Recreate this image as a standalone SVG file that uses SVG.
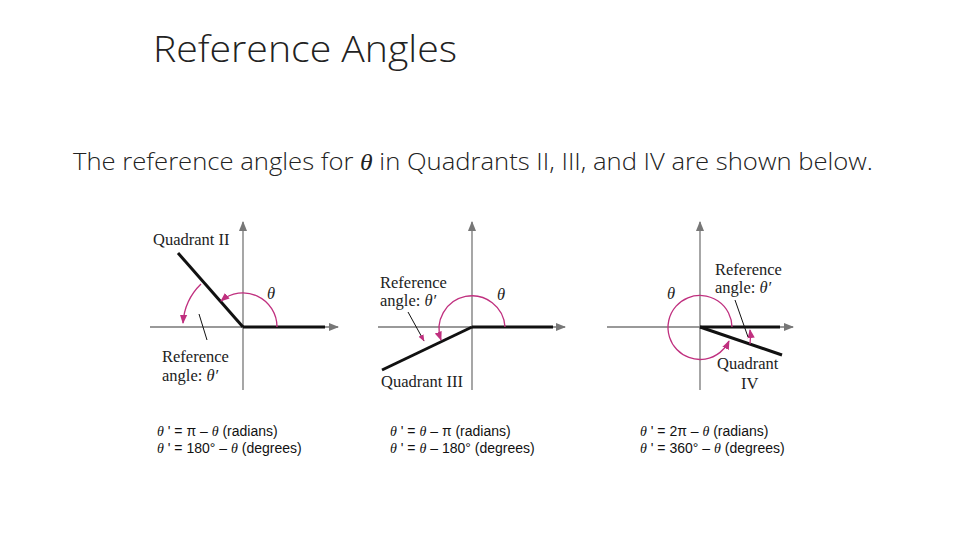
<svg xmlns="http://www.w3.org/2000/svg" width="960" height="540" viewBox="0 0 960 540">
<style>
.ax{stroke:#777;stroke-width:1.3;fill:none}
.ray{stroke:#111;stroke-width:3;fill:none}
.arc{stroke:#c0307f;stroke-width:1.3;fill:none}
.ld{stroke:#111;stroke-width:1;fill:none}
.lb{font-family:"Liberation Serif",serif;font-size:16.5px;fill:#222}
.fm{font-family:"Liberation Sans",Arial,sans-serif;font-size:14px;fill:#111}
.th{font-family:"Liberation Serif",serif;font-style:italic}
</style>
<defs>
<marker id="ah" viewBox="0 0 10 10" refX="9" refY="5" markerWidth="8" markerHeight="8" orient="auto"><path d="M0,1 L10,5 L0,9 z" fill="#777"/></marker>
<marker id="mh" viewBox="0 0 10 10" refX="9" refY="5" markerWidth="7" markerHeight="7" orient="auto"><path d="M0,1 L10,5 L0,9 z" fill="#c0307f"/></marker>
</defs>
<rect width="960" height="540" fill="#fff"/>
<text x="153" y="62" font-family="'Open Sans',sans-serif" font-weight="300" font-size="36" fill="#222" textLength="304" lengthAdjust="spacingAndGlyphs">Reference Angles</text>
<text x="73" y="170" font-family="'Open Sans',sans-serif" font-weight="300" font-size="23" fill="#222" textLength="800" lengthAdjust="spacingAndGlyphs">The reference angles for <tspan class="th">θ</tspan> in Quadrants II, III, and IV are shown below.</text>
<g id="connectors">
<line class="ax" x1="150" y1="327" x2="338" y2="327" marker-end="url(#ah)"/>
<line class="ax" x1="243" y1="390" x2="243" y2="222" marker-end="url(#ah)"/>
<line class="ax" x1="378" y1="327" x2="565" y2="327" marker-end="url(#ah)"/>
<line class="ax" x1="472" y1="390" x2="472" y2="222" marker-end="url(#ah)"/>
<line class="ax" x1="607" y1="327" x2="793" y2="327" marker-end="url(#ah)"/>
<line class="ax" x1="700" y1="390" x2="700" y2="222" marker-end="url(#ah)"/>
</g>
<g id="q2">
<line class="ray" x1="243" y1="327" x2="325" y2="327"/>
<line class="ray" x1="243" y1="327" x2="178" y2="253"/>
<path class="arc" d="M277,327 A34,34 0 0 0 221,301" marker-end="url(#mh)"/>
<path class="arc" d="M201,284 A60,60 0 0 0 183,323" marker-end="url(#mh)"/>
<line class="ld" x1="199" y1="314" x2="207" y2="340"/>
<text class="lb" x="153" y="245">Quadrant II</text>
<text class="lb th" x="267" y="299">θ</text>
<text class="lb" x="162" y="362">Reference</text>
<text class="lb" x="162" y="381">angle:  <tspan class="th">θ′</tspan></text>
</g>
<g id="q3">
<line class="ray" x1="472" y1="327" x2="553" y2="327"/>
<line class="ray" x1="472" y1="327" x2="382" y2="370"/>
<path class="arc" d="M505,327 A33,33 0 1 0 441,340" marker-end="url(#mh)"/>
<line class="ld" x1="408" y1="312" x2="424" y2="341" marker-end="url(#mh)"/>
<text class="lb" x="380" y="288">Reference</text>
<text class="lb" x="380" y="306">angle:  <tspan class="th">θ′</tspan></text>
<text class="lb th" x="497" y="300">θ</text>
<text class="lb" x="381" y="387">Quadrant III</text>
</g>
<g id="q4">
<line class="ray" x1="700" y1="327" x2="780" y2="327"/>
<line class="ray" x1="700" y1="327" x2="782" y2="355"/>
<path class="arc" d="M732,327 A32,32 0 1 0 729,341" marker-end="url(#mh)"/>
<path class="arc" d="M750,344 A50,50 0 0 0 750,330" marker-end="url(#mh)"/>
<line class="ld" x1="735" y1="300" x2="748" y2="337"/>
<text class="lb" x="715" y="275">Reference</text>
<text class="lb" x="715" y="293">angle:  <tspan class="th">θ′</tspan></text>
<text class="lb th" x="667" y="299">θ</text>
<text class="lb" x="717" y="369">Quadrant</text>
<text class="lb" x="741" y="389">IV</text>
</g>
<g id="formulas">
<text class="fm" x="157" y="436"><tspan class="th">θ</tspan> ' = π – <tspan class="th">θ</tspan> (radians)</text>
<text class="fm" x="157" y="453"><tspan class="th">θ</tspan> ' = 180° – <tspan class="th">θ</tspan> (degrees)</text>
<text class="fm" x="390" y="436"><tspan class="th">θ</tspan> ' = <tspan class="th">θ</tspan> – π (radians)</text>
<text class="fm" x="390" y="453"><tspan class="th">θ</tspan> ' = <tspan class="th">θ</tspan> – 180° (degrees)</text>
<text class="fm" x="640" y="436"><tspan class="th">θ</tspan> ' = 2π – <tspan class="th">θ</tspan> (radians)</text>
<text class="fm" x="640" y="453"><tspan class="th">θ</tspan> ' = 360° – <tspan class="th">θ</tspan> (degrees)</text>
</g>
</svg>
